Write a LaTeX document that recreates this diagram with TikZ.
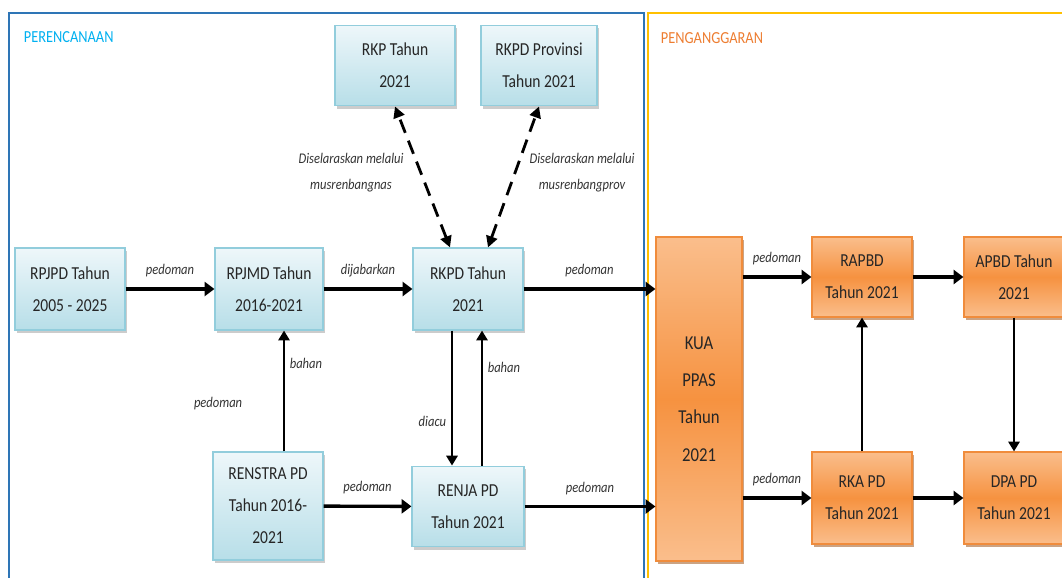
\documentclass[tikz,border=0pt]{standalone}
\usepackage{fontspec}
\setmainfont{Carlito}[FakeStretch=0.85]
\usepackage{tikz}
\usetikzlibrary{arrows.meta,shadows}
\definecolor{frameblue}{RGB}{46,117,182}
\definecolor{framegold}{RGB}{255,192,0}
\definecolor{titleblue}{RGB}{0,176,240}
\definecolor{titleorange}{RGB}{237,125,49}
\definecolor{boxtop}{RGB}{238,247,250}
\definecolor{boxbottom}{RGB}{183,222,232}
\definecolor{boxline}{RGB}{146,205,220}
\definecolor{orangetop}{RGB}{250,190,140}
\definecolor{orangemid}{RGB}{246,146,64}
\definecolor{orangeline}{RGB}{240,140,60}
\definecolor{orangeshadow}{RGB}{152,72,7}

\begin{document}
\begin{tikzpicture}[x=0.025cm,y=-0.025cm,
	planbox/.style={draw=boxline, line width=0.8pt, top color=boxtop, bottom color=boxbottom, align=center, text=black!85, font=\fontsize{13}{22.8}\selectfont, drop shadow={shadow xshift=1.5pt, shadow yshift=-2pt, fill=black!40}},
	budgetbox/.style={draw=orangeline, line width=0.8pt, top color=orangetop, bottom color=orangetop, middle color=orangemid, align=center, text=black!85, font=\fontsize{13}{22.8}\selectfont, drop shadow={shadow xshift=1.5pt, shadow yshift=-2pt, fill=orangeshadow}},
	flow/.style={-{Triangle[length=7pt,width=10pt]}, line width=2.4pt},
	thinflow/.style={-{Triangle[length=7pt,width=8pt]}, line width=1.6pt},
	tune/.style={{Triangle[length=8pt,width=8pt]}-{Triangle[length=8pt,width=8pt]}, line width=2pt, dash pattern=on 10pt off 6pt},
	lbl/.style={font=\fontsize{10.5}{18}\selectfont\itshape, text=black!80}]
					\useasboundingbox (0,0) rectangle (1062,577);
					\clip (0,0) rectangle (1062,577);
					% Frames and titles
					\draw[frameblue, line width=1pt] (9,580) -- (9,13) -- (644,13) -- (644,580);
					\draw[framegold, line width=1pt] (648,580) -- (648,13) -- (1070,13);
					\node[anchor=west, text=titleblue, font=\fontsize{12}{14}\selectfont] (perencanaan) at (19,37) {PERENCANAAN};
					\node[anchor=west, text=titleorange, font=\fontsize{12}{14}\selectfont] (penganggaran) at (656,38) {PENGANGGARAN};
					% Planning documents
					\node[planbox, minimum width=2.75cm, minimum height=2.05cm] (rpjpd) at (70,289) {RPJPD Tahun\\2005 - 2025};
					\node[planbox, minimum width=2.7cm, minimum height=2.05cm] (rpjmd) at (269,289) {RPJMD Tahun\\2016-2021};
					\node[planbox, minimum width=2.75cm, minimum height=2.05cm] (rkpd) at (468,289) {RKPD Tahun\\2021};
					\node[planbox, minimum width=3cm, minimum height=2.02cm] (rkp) at (395,65.5) {RKP Tahun\\2021};
					\node[planbox, minimum width=2.9cm, minimum height=2.02cm] (rkpdprov) at (539,65.5) {RKPD Provinsi\\Tahun 2021};
					\node[planbox, minimum width=2.75cm, minimum height=2.7cm] (renstra) at (268,506) {RENSTRA PD\\Tahun 2016-\\2021};
					\node[planbox, minimum width=2.8cm, minimum height=2.02cm] (renja) at (468,506.5) {RENJA PD\\Tahun 2021};
					% Budgeting documents
					\node[budgetbox, minimum width=2.15cm, minimum height=8.1cm, font=\fontsize{14}{26.5}\selectfont] (kua) at (699,399) {KUA\\PPAS\\Tahun\\2021};
					\node[budgetbox, minimum width=2.5cm, minimum height=2cm] (rapbd) at (862,277) {RAPBD\\Tahun 2021};
					\node[budgetbox, minimum width=2.5cm, minimum height=2cm] (apbd) at (1014,277) {APBD Tahun\\2021};
					\node[budgetbox, minimum width=2.5cm, minimum height=2.3cm] (rka) at (862,498) {RKA PD\\Tahun 2021};
					\node[budgetbox, minimum width=2.5cm, minimum height=2.3cm] (dpa) at (1014,498) {DPA PD\\Tahun 2021};
					% Arrows between planning documents
					\draw[flow] (rpjpd) -- (rpjmd) node[lbl, midway, above=4pt] {pedoman};
					\draw[flow] (rpjmd) -- (rkpd) node[lbl, midway, above=4pt] {dijabarkan};
					\draw[flow] (rkpd) -- (kua.west |- rkpd.east) node[lbl, midway, above=4pt] {pedoman};
					\draw[tune] ([xshift=-0.45cm]rkpd.north) -- (rkp.south) node[lbl, pos=0.53, left=8pt, align=center] {Diselaraskan melalui\\musrenbangnas};
					\draw[tune] ([xshift=0.5cm]rkpd.north) -- (rkpdprov.south) node[lbl, pos=0.53, right=6pt, align=center] {Diselaraskan melalui\\musrenbangprov};
					\draw[thinflow] ([xshift=0.4cm]renstra.north) -- ([xshift=0.4cm]renstra.north |- rpjmd.south) node[lbl, pos=0.73, right=0pt] {bahan} node[lbl, pos=0.4, left=0.9cm] {pedoman};
					\draw[thinflow] ([xshift=-0.4cm]rkpd.south) -- ([xshift=-0.4cm]rkpd.south |- renja.north) node[lbl, pos=0.67, left=0pt] {diacu};
					\draw[thinflow] ([xshift=0.35cm]renja.north) -- ([xshift=0.35cm]renja.north |- rkpd.south) node[lbl, pos=0.73, right=0pt] {bahan};
					\draw[flow] (renstra) -- (renja) node[lbl, midway, above=4pt] {pedoman};
					\draw[flow] (renja) -- (kua.west |- renja.east) node[lbl, midway, above=4pt] {pedoman};
					% Arrows between budgeting documents
					\draw[flow] (kua.east |- rapbd.west) -- (rapbd) node[lbl, midway, above=4pt] {pedoman};
					\draw[flow] (kua.east |- rka.west) -- (rka) node[lbl, midway, above=4pt] {pedoman};
					\draw[flow] (rapbd) -- (apbd);
					\draw[thinflow] (rka) -- (rapbd);
					\draw[thinflow] (apbd) -- (dpa);
					\draw[flow] (rka) -- (dpa);
				\end{tikzpicture}
\end{document}
